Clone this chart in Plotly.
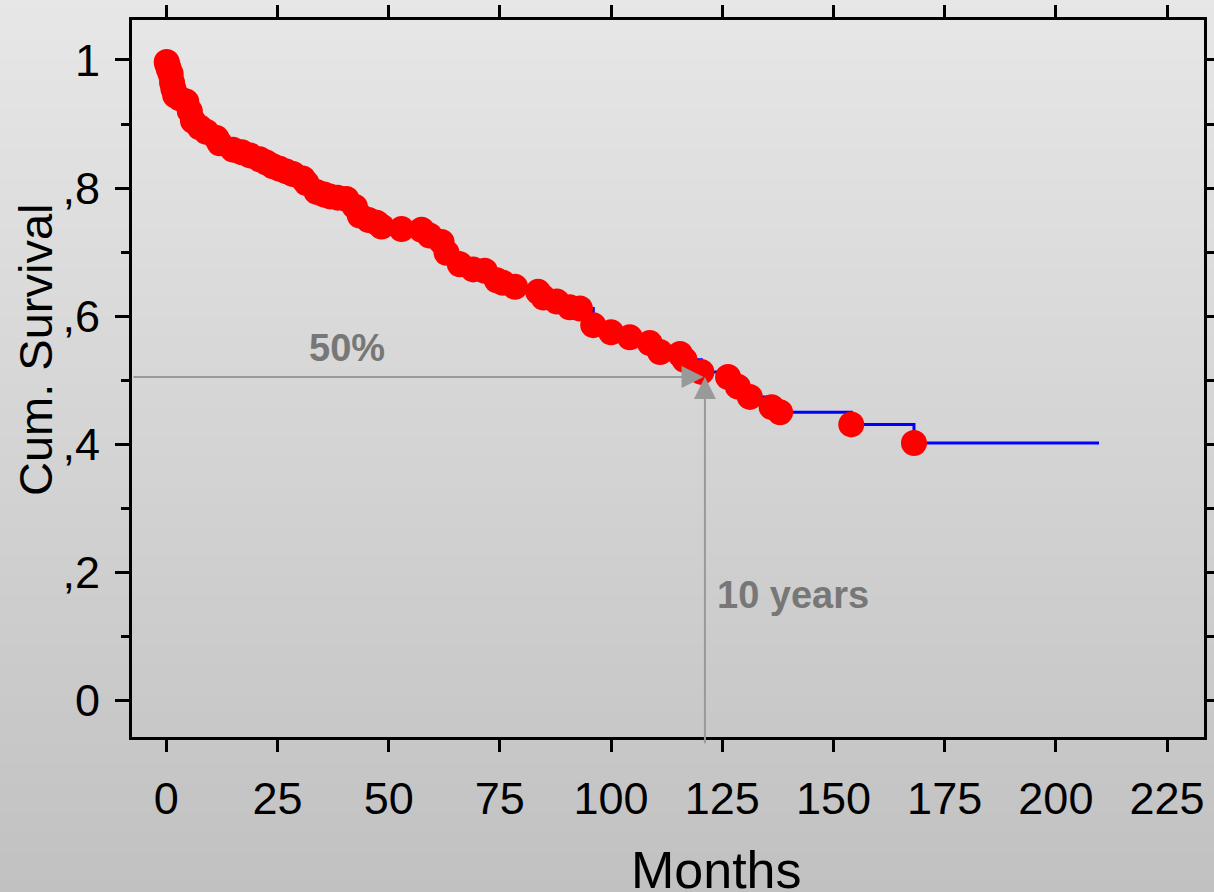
import plotly.graph_objects as go

# ---- data ----
event_months = [0.1, 0.3, 0.6, 1.0, 1.3, 1.6, 2.0, 3.0, 4.5, 5.3, 6.0, 7.5, 9.0, 11.3, 12.0,
                15.0, 17.0, 18.8, 21.0, 22.5, 24.0, 25.5, 27.0, 28.5, 30.7, 31.5, 33.8, 35.5,
                36.8, 38.5, 40.5, 42.4, 43.5, 45.5, 47.3, 48.4, 52.9, 57.4, 59.2, 61.9, 63.0,
                66.0, 69.0, 71.6, 74.3, 75.7, 78.4, 83.6, 84.8, 87.8, 90.7, 93.0, 96.0, 100.0,
                104.2, 108.7, 111.0, 115.5, 116.5, 120.3, 126.3, 128.5, 131.2, 136.1, 138.0,
                154.0, 168.1]
cum_survival = [0.997, 0.992, 0.985, 0.978, 0.965, 0.955, 0.945, 0.940, 0.935, 0.920, 0.905,
                0.895, 0.888, 0.878, 0.870, 0.860, 0.856, 0.851, 0.845, 0.840, 0.834, 0.830,
                0.826, 0.822, 0.815, 0.808, 0.794, 0.790, 0.787, 0.785, 0.783, 0.771, 0.757,
                0.750, 0.746, 0.740, 0.736, 0.735, 0.726, 0.716, 0.699, 0.681, 0.673, 0.671,
                0.656, 0.652, 0.646, 0.638, 0.629, 0.623, 0.614, 0.612, 0.586, 0.575, 0.567,
                0.558, 0.544, 0.541, 0.532, 0.513, 0.505, 0.490, 0.474, 0.458, 0.450, 0.431,
                0.402]
followup_end = 209.7

x_ticks = [0, 25, 50, 75, 100, 125, 150, 175, 200, 225]
y_ticks = [0, 0.2, 0.4, 0.6, 0.8, 1.0]
y_tick_text = ["0", ",2", ",4", ",6", ",8", "1"]
y_minor = [0.1, 0.3, 0.5, 0.7, 0.9]

median_level = 0.505
ten_years = 120.8

# ---- layout geometry ----
W, H = 1214, 892
L, R, T, B = 132, 10, 20, 155
PW, PH = W - L - R, H - T - B
FONT = "Liberation Sans, Arial, Helvetica, sans-serif"

fig = go.Figure()

# step line
fig.add_trace(go.Scatter(
    x=[0] + event_months + [followup_end],
    y=[1.0] + cum_survival + [cum_survival[-1]],
    mode="lines", line=dict(color="#0000ff", width=3, shape="hv"),
    hoverinfo="skip", showlegend=False))

# markers
fig.add_trace(go.Scatter(
    x=event_months, y=cum_survival, mode="markers",
    marker=dict(color="#ff0000", size=26, line=dict(width=0)),
    showlegend=False))

# gradient background bands (paper coordinates)
shapes = []
nb = 90
for i in range(nb):
    p0 = i * H / nb
    p1 = (i + 1) * H / nb + 1
    frac = (i + 0.5) / nb
    c = int(round(231 - (231 - 193) * frac))
    shapes.append(dict(
        type="rect", xref="paper", yref="paper", layer="below",
        x0=-L / PW - 0.01, x1=1 + R / PW + 0.01,
        y0=(H - B - p1) / PH, y1=(H - B - p0) / PH,
        fillcolor=f"rgb({c},{c},{c})", line=dict(width=0)))

annotations = [
    # 50% arrow (horizontal)
    dict(x=ten_years, y=median_level, ax=-7.7, ay=median_level, xref="x", yref="y",
         axref="x", ayref="y", text="", showarrow=True, arrowhead=2, arrowsize=2.2,
         arrowwidth=2, arrowcolor="#999999", standoff=0),
    # 10 years arrow (vertical)
    dict(x=ten_years + 0.3, y=median_level, ax=ten_years + 0.3, ay=-0.069, xref="x", yref="y",
         axref="x", ayref="y", text="", showarrow=True, arrowhead=2, arrowsize=2.2,
         arrowwidth=2, arrowcolor="#999999", standoff=0),
    dict(x=40.7, y=0.551, xref="x", yref="y", text="<b>50%</b>", showarrow=False,
         xanchor="center", yanchor="middle",
         font=dict(family=FONT, size=38, color="#777777")),
    dict(x=140.9, y=0.165, xref="x", yref="y", text="<b>10 years</b>", showarrow=False,
         xanchor="center", yanchor="middle",
         font=dict(family=FONT, size=38, color="#777777")),
    # axis titles
    dict(x=(35 - L) / PW, y=(H - B - 350) / PH, xref="paper", yref="paper",
         text="Cum. Survival", textangle=-90, showarrow=False,
         xanchor="center", yanchor="middle",
         font=dict(family=FONT, size=47, color="#000000")),
    dict(x=(716 - L) / PW, y=(H - B - 870) / PH, xref="paper", yref="paper",
         text="Months", showarrow=False, xanchor="center", yanchor="middle",
         font=dict(family=FONT, size=52, color="#000000")),
]

fig.update_layout(
    width=W, height=H,
    margin=dict(l=L, r=R, t=T, b=B, pad=0, autoexpand=False),
    paper_bgcolor="rgb(210,210,210)",
    plot_bgcolor="rgba(0,0,0,0)",
    shapes=shapes, annotations=annotations,
    showlegend=False,
    font=dict(family=FONT, color="#000000"),
)

fig.update_xaxes(
    range=[-7.7, 233.3], tickmode="array", tickvals=x_ticks, automargin=False,
    ticks="outside", ticklen=12, tickwidth=3, tickcolor="#000000",
    showline=True, linewidth=3, linecolor="#000000", mirror="allticks",
    showgrid=False, zeroline=False,
    tickfont=dict(family=FONT, size=45, color="#000000"), ticklabelstandoff=8)

fig.update_yaxes(
    range=[-0.057, 1.0624], tickmode="array", tickvals=y_ticks, ticktext=y_tick_text,
    automargin=False,
    ticks="outside", ticklen=14, tickwidth=3, tickcolor="#000000",
    minor=dict(tickvals=y_minor, ticks="outside", ticklen=8, tickwidth=3, tickcolor="#000000"),
    showline=True, linewidth=3, linecolor="#000000", mirror="allticks",
    showgrid=False, zeroline=False,
    tickfont=dict(family=FONT, size=45, color="#000000"), ticklabelstandoff=6)

fig.write_html("out.html", config={"displayModeBar": False},
               post_script="document.body.style.margin='0px';document.body.style.overflow='hidden';")
